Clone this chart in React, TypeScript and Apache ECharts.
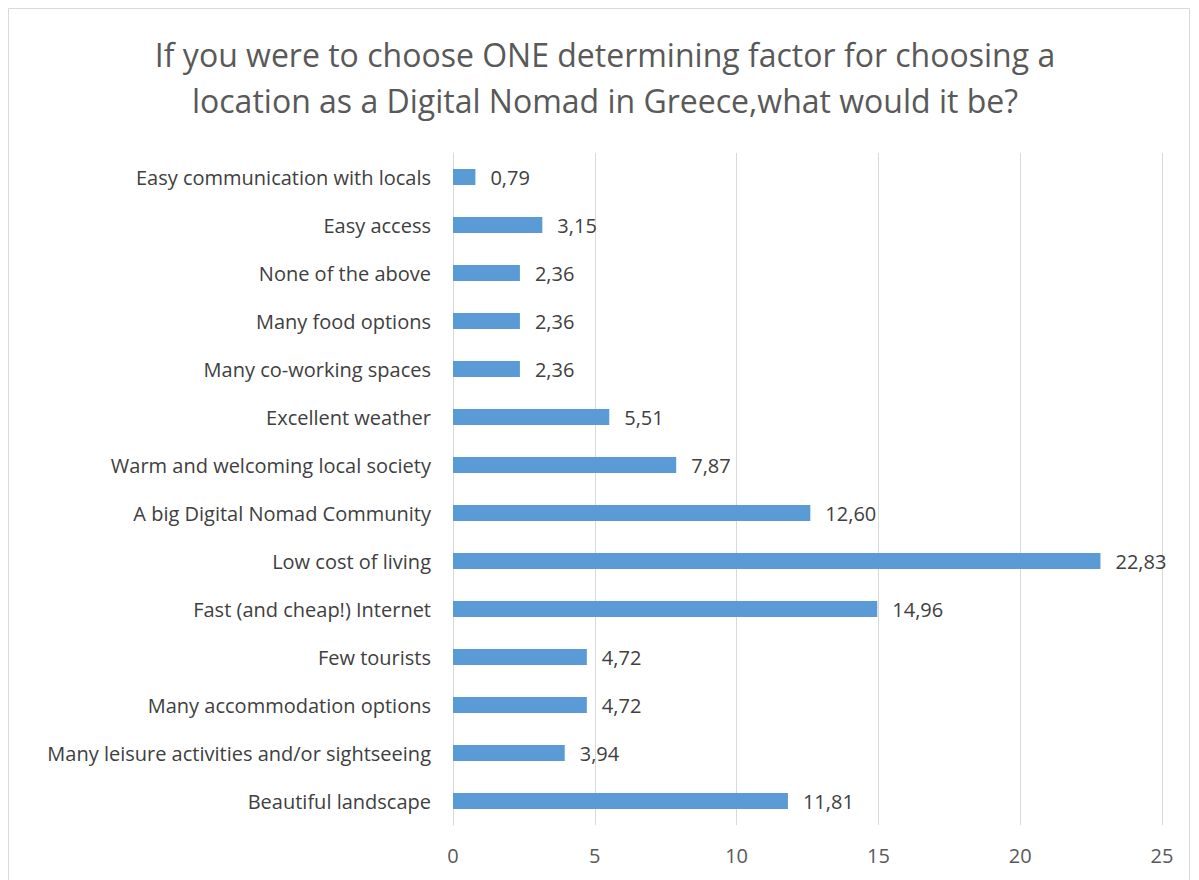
import React, { useEffect, useRef } from "react";
import * as echarts from "echarts";

const categories = [
  "Easy communication with locals",
  "Easy access",
  "None of the above",
  "Many food options",
  "Many co-working spaces",
  "Excellent weather",
  "Warm and welcoming local society",
  "A big Digital Nomad Community",
  "Low cost of living",
  "Fast (and cheap!) Internet",
  "Few tourists",
  "Many accommodation options",
  "Many leisure activities and/or sightseeing",
  "Beautiful landscape",
];
const values = [0.79, 3.15, 2.36, 2.36, 2.36, 5.51, 7.87, 12.6, 22.83, 14.96, 4.72, 4.72, 3.94, 11.81];
const titleLines = [
  "If you were to choose ONE determining factor for choosing a",
  "location as a Digital Nomad in Greece,what would it be?",
];

const FONT = "'Open Sans', 'Noto Sans', sans-serif";

export default function App() {
  const ref = useRef<HTMLDivElement>(null);
  useEffect(() => {
    const chart = echarts.init(ref.current!, null, { renderer: "svg" });
    chart.setOption({
      animation: false,
      backgroundColor: "#ffffff",
      textStyle: { fontFamily: FONT },
      graphic: [
        {
          type: "rect",
          shape: { x: 0.5, y: 0.5, width: 1181, height: 900 },
          style: { fill: "none", stroke: "#d9d9d9", lineWidth: 1 },
          silent: true,
        },
        {
          type: "text",
          x: 597,
          y: 46,
          style: {
            text: titleLines[0],
            fill: "#595959",
            font: `32px ${FONT}`,
            textAlign: "center",
            textVerticalAlign: "middle",
          },
        },
        {
          type: "text",
          x: 597,
          y: 92,
          style: {
            text: titleLines[1],
            fill: "#595959",
            font: `32px ${FONT}`,
            textAlign: "center",
            textVerticalAlign: "middle",
          },
        },
      ],
      grid: { left: 445, right: 29, top: 145, bottom: 55, containLabel: false },
      xAxis: {
        type: "value",
        min: 0,
        max: 25,
        interval: 5,
        axisLine: { show: false },
        axisTick: { show: false },
        splitLine: { show: true, lineStyle: { color: "#d9d9d9", width: 1 } },
        axisLabel: { color: "#595959", fontSize: 20, fontFamily: FONT, margin: 20 },
      },
      yAxis: {
        type: "category",
        inverse: true,
        data: categories,
        axisLine: { show: true, lineStyle: { color: "#d9d9d9" } },
        axisTick: { show: false },
        axisLabel: { color: "#404040", fontSize: 20, fontFamily: FONT, margin: 22 },
      },
      series: [
        {
          type: "bar",
          data: values,
          barWidth: 16,
          itemStyle: { color: "#5b9bd5" },
          label: {
            show: true,
            position: "right",
            distance: 15,
            color: "#404040",
            fontSize: 20,
            fontFamily: FONT,
            formatter: (p: any) => p.value.toFixed(2).replace(".", ","),
          },
        },
      ],
    });
    return () => chart.dispose();
  }, []);
  return <div ref={ref} style={{ width: 1183, height: 872 }} />;
}
